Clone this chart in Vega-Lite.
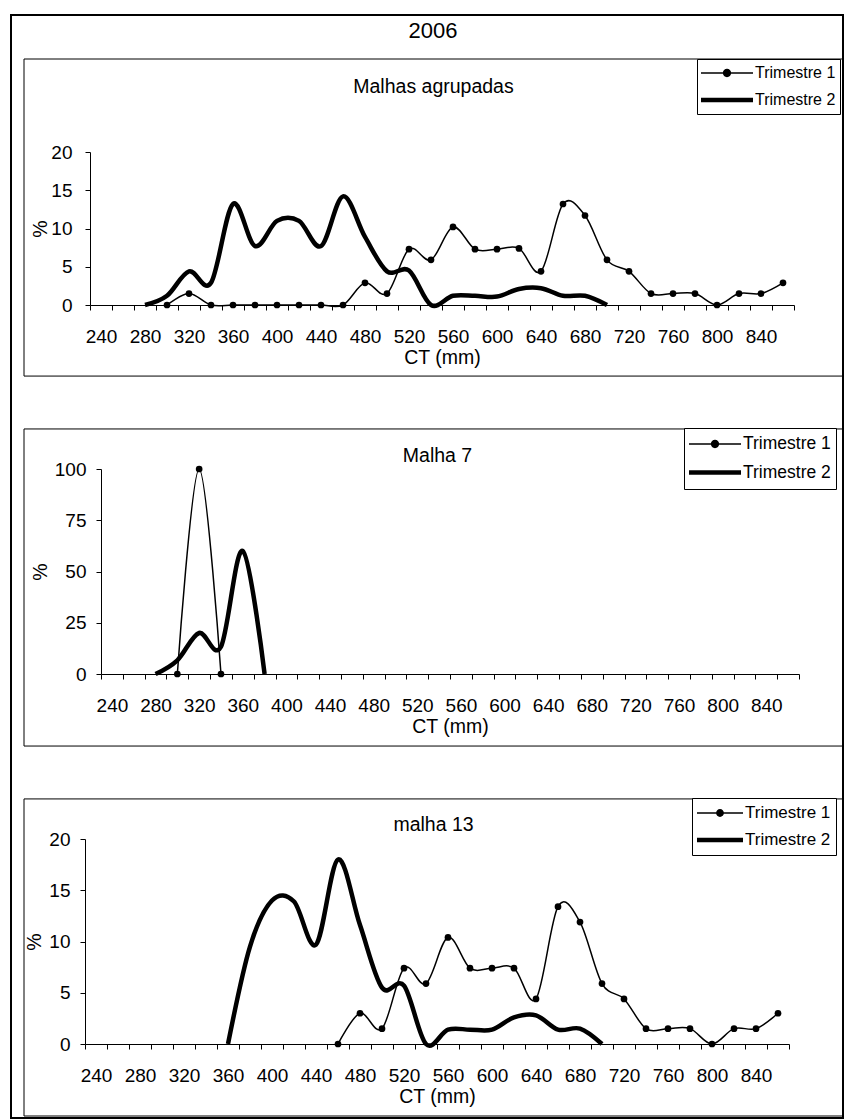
{
  "$schema": "https://vega.github.io/schema/vega-lite/v6.json",
  "width": 832,
  "height": 1103,
  "autosize": {"type": "none"},
  "padding": {"left": 11, "top": 15, "right": 1, "bottom": 1},
  "background": "white",
  "title": {"text": "2006", "fontSize": 22, "font": "Liberation Sans", "fontWeight": "normal", "color": "black", "anchor": "middle", "frame": "group", "offset": -28, "dx": 6},
  "config": {
    "font": "Liberation Sans",
    "view": {"stroke": "black", "strokeWidth": 2},
    "axis": {"domainColor": "black", "tickColor": "black", "labelColor": "black", "titleColor": "black", "grid": false, "labelFont": "Liberation Sans", "titleFont": "Liberation Sans", "titleFontWeight": "normal", "labelFontSize": 19, "titleFontSize": 19.5, "domainWidth": 1, "tickWidth": 1},
    "legend": {"labelFont": "Liberation Sans", "labelColor": "black"}
  },
  "datasets": {
    "p1": [
      {"ct": 300, "pct": 0, "serie": "Trimestre 1"}, {"ct": 320, "pct": 1.5, "serie": "Trimestre 1"}, {"ct": 340, "pct": 0, "serie": "Trimestre 1"}, {"ct": 360, "pct": 0, "serie": "Trimestre 1"}, {"ct": 380, "pct": 0, "serie": "Trimestre 1"}, {"ct": 400, "pct": 0, "serie": "Trimestre 1"}, {"ct": 420, "pct": 0, "serie": "Trimestre 1"}, {"ct": 440, "pct": 0, "serie": "Trimestre 1"}, {"ct": 460, "pct": 0, "serie": "Trimestre 1"}, {"ct": 480, "pct": 2.9, "serie": "Trimestre 1"}, {"ct": 500, "pct": 1.5, "serie": "Trimestre 1"}, {"ct": 520, "pct": 7.3, "serie": "Trimestre 1"}, {"ct": 540, "pct": 5.9, "serie": "Trimestre 1"}, {"ct": 560, "pct": 10.2, "serie": "Trimestre 1"}, {"ct": 580, "pct": 7.3, "serie": "Trimestre 1"}, {"ct": 600, "pct": 7.3, "serie": "Trimestre 1"}, {"ct": 620, "pct": 7.4, "serie": "Trimestre 1"}, {"ct": 640, "pct": 4.4, "serie": "Trimestre 1"}, {"ct": 660, "pct": 13.2, "serie": "Trimestre 1"}, {"ct": 680, "pct": 11.7, "serie": "Trimestre 1"}, {"ct": 700, "pct": 5.9, "serie": "Trimestre 1"}, {"ct": 720, "pct": 4.4, "serie": "Trimestre 1"}, {"ct": 740, "pct": 1.5, "serie": "Trimestre 1"}, {"ct": 760, "pct": 1.5, "serie": "Trimestre 1"}, {"ct": 780, "pct": 1.5, "serie": "Trimestre 1"}, {"ct": 800, "pct": 0, "serie": "Trimestre 1"}, {"ct": 820, "pct": 1.5, "serie": "Trimestre 1"}, {"ct": 840, "pct": 1.5, "serie": "Trimestre 1"}, {"ct": 860, "pct": 2.9, "serie": "Trimestre 1"},
      {"ct": 280, "pct": 0, "serie": "Trimestre 2"}, {"ct": 300, "pct": 1.2, "serie": "Trimestre 2"}, {"ct": 320, "pct": 4.4, "serie": "Trimestre 2"}, {"ct": 340, "pct": 2.9, "serie": "Trimestre 2"}, {"ct": 360, "pct": 13.2, "serie": "Trimestre 2"}, {"ct": 380, "pct": 7.7, "serie": "Trimestre 2"}, {"ct": 400, "pct": 11.0, "serie": "Trimestre 2"}, {"ct": 420, "pct": 11.0, "serie": "Trimestre 2"}, {"ct": 440, "pct": 7.7, "serie": "Trimestre 2"}, {"ct": 460, "pct": 14.2, "serie": "Trimestre 2"}, {"ct": 480, "pct": 8.9, "serie": "Trimestre 2"}, {"ct": 500, "pct": 4.4, "serie": "Trimestre 2"}, {"ct": 520, "pct": 4.5, "serie": "Trimestre 2"}, {"ct": 540, "pct": 0, "serie": "Trimestre 2"}, {"ct": 560, "pct": 1.2, "serie": "Trimestre 2"}, {"ct": 580, "pct": 1.2, "serie": "Trimestre 2"}, {"ct": 600, "pct": 1.1, "serie": "Trimestre 2"}, {"ct": 620, "pct": 2.1, "serie": "Trimestre 2"}, {"ct": 640, "pct": 2.2, "serie": "Trimestre 2"}, {"ct": 660, "pct": 1.2, "serie": "Trimestre 2"}, {"ct": 680, "pct": 1.2, "serie": "Trimestre 2"}, {"ct": 700, "pct": 0, "serie": "Trimestre 2"}
    ],
    "p2": [
      {"ct": 300, "pct": 0, "serie": "Trimestre 1"}, {"ct": 320, "pct": 100, "serie": "Trimestre 1"}, {"ct": 340, "pct": 0, "serie": "Trimestre 1"},
      {"ct": 280, "pct": 0, "serie": "Trimestre 2"}, {"ct": 300, "pct": 6.7, "serie": "Trimestre 2"}, {"ct": 320, "pct": 20, "serie": "Trimestre 2"}, {"ct": 340, "pct": 13.3, "serie": "Trimestre 2"}, {"ct": 360, "pct": 60, "serie": "Trimestre 2"}, {"ct": 380, "pct": 0, "serie": "Trimestre 2"}
    ],
    "p3": [
      {"ct": 460, "pct": 0, "serie": "Trimestre 1"}, {"ct": 480, "pct": 3.0, "serie": "Trimestre 1"}, {"ct": 500, "pct": 1.5, "serie": "Trimestre 1"}, {"ct": 520, "pct": 7.4, "serie": "Trimestre 1"}, {"ct": 540, "pct": 5.9, "serie": "Trimestre 1"}, {"ct": 560, "pct": 10.4, "serie": "Trimestre 1"}, {"ct": 580, "pct": 7.4, "serie": "Trimestre 1"}, {"ct": 600, "pct": 7.4, "serie": "Trimestre 1"}, {"ct": 620, "pct": 7.4, "serie": "Trimestre 1"}, {"ct": 640, "pct": 4.4, "serie": "Trimestre 1"}, {"ct": 660, "pct": 13.4, "serie": "Trimestre 1"}, {"ct": 680, "pct": 11.9, "serie": "Trimestre 1"}, {"ct": 700, "pct": 5.9, "serie": "Trimestre 1"}, {"ct": 720, "pct": 4.4, "serie": "Trimestre 1"}, {"ct": 740, "pct": 1.5, "serie": "Trimestre 1"}, {"ct": 760, "pct": 1.5, "serie": "Trimestre 1"}, {"ct": 780, "pct": 1.5, "serie": "Trimestre 1"}, {"ct": 800, "pct": 0, "serie": "Trimestre 1"}, {"ct": 820, "pct": 1.5, "serie": "Trimestre 1"}, {"ct": 840, "pct": 1.5, "serie": "Trimestre 1"}, {"ct": 860, "pct": 3.0, "serie": "Trimestre 1"},
      {"ct": 360, "pct": 0, "serie": "Trimestre 2"}, {"ct": 380, "pct": 9.5, "serie": "Trimestre 2"}, {"ct": 400, "pct": 14.0, "serie": "Trimestre 2"}, {"ct": 420, "pct": 13.9, "serie": "Trimestre 2"}, {"ct": 440, "pct": 9.7, "serie": "Trimestre 2"}, {"ct": 460, "pct": 18.0, "serie": "Trimestre 2"}, {"ct": 480, "pct": 11.6, "serie": "Trimestre 2"}, {"ct": 500, "pct": 5.5, "serie": "Trimestre 2"}, {"ct": 520, "pct": 5.7, "serie": "Trimestre 2"}, {"ct": 540, "pct": 0, "serie": "Trimestre 2"}, {"ct": 560, "pct": 1.4, "serie": "Trimestre 2"}, {"ct": 580, "pct": 1.4, "serie": "Trimestre 2"}, {"ct": 600, "pct": 1.4, "serie": "Trimestre 2"}, {"ct": 620, "pct": 2.6, "serie": "Trimestre 2"}, {"ct": 640, "pct": 2.8, "serie": "Trimestre 2"}, {"ct": 660, "pct": 1.4, "serie": "Trimestre 2"}, {"ct": 680, "pct": 1.5, "serie": "Trimestre 2"}, {"ct": 700, "pct": 0, "serie": "Trimestre 2"}
    ]
  },
  "layer": [
    {
      "data": {"values": [{"panel": "Malhas agrupadas"}, {"panel": "Malha 7"}, {"panel": "malha 13"}]},
      "mark": {"type": "rect", "fill": "transparent", "stroke": "black", "strokeWidth": 1},
      "encoding": {
        "y": {"field": "panel", "type": "nominal", "scale": {"domain": ["Malhas agrupadas", "Malha 7", "malha 13"], "range": [44, 1101], "paddingInner": 0.143, "paddingOuter": 0}, "axis": null},
        "x": {"datum": "frame", "type": "nominal", "scale": {"range": [13, 832], "paddingInner": 0, "paddingOuter": 0}, "axis": null}
      }
    },
    {
      "data": {"name": "p1"},
      "layer": [
        {
          "transform": [{"filter": "datum.serie === 'Trimestre 2'"}],
          "mark": {"type": "line", "interpolate": "cardinal", "color": "black", "strokeWidth": 4.5, "strokeJoin": "round"},
          "encoding": {
            "x": {"field": "ct", "type": "quantitative", "scale": {"domain": [230, 870], "range": [79, 783], "nice": false, "zero": false},
              "axis": {"orient": "bottom", "offset": -813, "values": [230,250,270,290,310,330,350,370,390,410,430,450,470,490,510,530,550,570,590,610,630,650,670,690,710,730,750,770,790,810,830,850,870], "labels": false, "ticks": true, "tickSize": 5, "domain": true, "title": null}},
            "y": {"field": "pct", "type": "quantitative", "scale": {"domain": [0, 20], "range": [290, 137], "nice": false, "zero": false},
              "axis": {"orient": "left", "offset": -79, "values": [0, 5, 10, 15, 20], "tickSize": 5, "labelPadding": 13, "labelOverlap": false, "labelBound": false, "title": "%", "titlePadding": 0}}
          }
        },
        {
          "transform": [{"filter": "datum.serie === 'Trimestre 1'"}],
          "mark": {"type": "line", "interpolate": "cardinal", "color": "black", "strokeWidth": 1.5},
          "encoding": {
            "x": {"field": "ct", "type": "quantitative", "scale": {"domain": [230, 870], "range": [79, 783], "nice": false, "zero": false},
              "axis": {"orient": "bottom", "offset": -813, "values": [240,280,320,360,400,440,480,520,560,600,640,680,720,760,800,840], "ticks": false, "domain": false, "labelPadding": 22, "labelOverlap": false, "labelFlush": false, "labelBound": false, "title": "CT (mm)", "titlePadding": 2}},
            "y": {"field": "pct", "type": "quantitative", "scale": {"domain": [0, 20], "range": [290, 137], "nice": false, "zero": false}, "axis": null}
          }
        },
        {
          "transform": [{"filter": "datum.serie === 'Trimestre 1'"}],
          "mark": {"type": "point", "filled": true, "color": "black", "size": 45, "opacity": 1},
          "encoding": {
            "x": {"field": "ct", "type": "quantitative", "scale": {"domain": [230, 870], "range": [79, 783], "nice": false, "zero": false},
              "axis": {"orient": "top", "offset": -81, "domain": false, "ticks": false, "labels": false, "title": "Malhas agrupadas", "titlePadding": 0, "titleX": 422, "titleAlign": "center"}},
            "y": {"field": "pct", "type": "quantitative", "scale": {"domain": [0, 20], "range": [290, 137], "nice": false, "zero": false}, "axis": null}
          }
        },
        {
          "mark": {"type": "point", "filled": true, "color": "black", "strokeWidth": 0},
          "encoding": {
            "x": {"field": "ct", "type": "quantitative", "scale": {"domain": [230, 870], "range": [79, 783], "nice": false, "zero": false}, "axis": null},
            "y": {"field": "pct", "type": "quantitative", "scale": {"domain": [0, 20], "range": [290, 137], "nice": false, "zero": false}, "axis": null},
            "opacity": {"value": 0},
            "shape": {"field": "serie", "type": "nominal",
              "scale": {"domain": ["Trimestre 1", "Trimestre 2"], "range": ["M-1,-0.03H1V0.03H-1Z M0.16,0A0.16,0.16 0 1 1 -0.16,0A0.16,0.16 0 1 1 0.16,0Z", "M-1,-0.09H1V0.09H-1Z"]},
              "legend": {"title": null, "orient": "none", "legendX": 686, "legendY": 44, "direction": "vertical", "strokeColor": "black", "fillColor": "white", "padding": 4, "symbolSize": 2704, "symbolStrokeWidth": 0, "symbolOpacity": 1, "symbolFillColor": "black", "labelFontSize": 16, "labelOffset": 2, "clipHeight": 20, "rowPadding": 7, "labelBaseline": "middle"}}
          }
        }
      ],
      "resolve": {"axis": {"x": "independent", "y": "independent"}}
    },
    {
      "data": {"name": "p2"},
      "layer": [
        {
          "transform": [{"filter": "datum.serie === 'Trimestre 2'"}],
          "mark": {"type": "line", "interpolate": "cardinal", "color": "black", "strokeWidth": 4.5, "strokeJoin": "round"},
          "encoding": {
            "x": {"field": "ct", "type": "quantitative", "scale": {"domain": [230, 870], "range": [90, 788], "nice": false, "zero": false},
              "axis": {"orient": "bottom", "offset": -444, "values": [230,250,270,290,310,330,350,370,390,410,430,450,470,490,510,530,550,570,590,610,630,650,670,690,710,730,750,770,790,810,830,850,870], "labels": false, "ticks": true, "tickSize": 5, "domain": true, "title": null}},
            "y": {"field": "pct", "type": "quantitative", "scale": {"domain": [0, 100], "range": [659, 454], "nice": false, "zero": false},
              "axis": {"orient": "left", "offset": -90, "values": [0, 25, 50, 75, 100], "tickSize": 5, "labelPadding": 10, "labelOverlap": false, "labelBound": false, "title": "%", "titlePadding": 4}}
          }
        },
        {
          "transform": [{"filter": "datum.serie === 'Trimestre 1'"}],
          "mark": {"type": "line", "interpolate": "cardinal", "color": "black", "strokeWidth": 1.5},
          "encoding": {
            "x": {"field": "ct", "type": "quantitative", "scale": {"domain": [230, 870], "range": [90, 788], "nice": false, "zero": false},
              "axis": {"orient": "bottom", "offset": -444, "values": [240,280,320,360,400,440,480,520,560,600,640,680,720,760,800,840], "ticks": false, "domain": false, "labelPadding": 22, "labelOverlap": false, "labelFlush": false, "labelBound": false, "title": "CT (mm)", "titlePadding": 2}},
            "y": {"field": "pct", "type": "quantitative", "scale": {"domain": [0, 100], "range": [659, 454], "nice": false, "zero": false}, "axis": null}
          }
        },
        {
          "transform": [{"filter": "datum.serie === 'Trimestre 1'"}],
          "mark": {"type": "point", "filled": true, "color": "black", "size": 45, "opacity": 1},
          "encoding": {
            "x": {"field": "ct", "type": "quantitative", "scale": {"domain": [230, 870], "range": [90, 788], "nice": false, "zero": false},
              "axis": {"orient": "top", "offset": -450, "domain": false, "ticks": false, "labels": false, "title": "Malha 7", "titlePadding": 0, "titleX": 426, "titleAlign": "center"}},
            "y": {"field": "pct", "type": "quantitative", "scale": {"domain": [0, 100], "range": [659, 454], "nice": false, "zero": false}, "axis": null}
          }
        },
        {
          "mark": {"type": "point", "filled": true, "color": "black", "strokeWidth": 0},
          "encoding": {
            "x": {"field": "ct", "type": "quantitative", "scale": {"domain": [230, 870], "range": [90, 788], "nice": false, "zero": false}, "axis": null},
            "y": {"field": "pct", "type": "quantitative", "scale": {"domain": [0, 100], "range": [659, 454], "nice": false, "zero": false}, "axis": null},
            "opacity": {"value": 0},
            "shape": {"field": "serie", "type": "nominal",
              "scale": {"domain": ["Trimestre 1", "Trimestre 2"], "range": ["M-1,-0.03H1V0.03H-1Z M0.16,0A0.16,0.16 0 1 1 -0.16,0A0.16,0.16 0 1 1 0.16,0Z", "M-1,-0.09H1V0.09H-1Z"]},
              "legend": {"title": null, "orient": "none", "legendX": 673, "legendY": 413, "direction": "vertical", "strokeColor": "black", "fillColor": "white", "padding": 5, "symbolSize": 2704, "symbolStrokeWidth": 0, "symbolOpacity": 1, "symbolFillColor": "black", "labelFontSize": 17.5, "labelOffset": 2, "clipHeight": 22, "rowPadding": 6.5, "labelBaseline": "middle"}}
          }
        }
      ],
      "resolve": {"axis": {"x": "independent", "y": "independent"}}
    },
    {
      "data": {"name": "p3"},
      "layer": [
        {
          "transform": [{"filter": "datum.serie === 'Trimestre 2'"}],
          "mark": {"type": "line", "interpolate": "cardinal", "color": "black", "strokeWidth": 4.5, "strokeJoin": "round"},
          "encoding": {
            "x": {"field": "ct", "type": "quantitative", "scale": {"domain": [230, 870], "range": [74, 778], "nice": false, "zero": false},
              "axis": {"orient": "bottom", "offset": -74, "values": [230,250,270,290,310,330,350,370,390,410,430,450,470,490,510,530,550,570,590,610,630,650,670,690,710,730,750,770,790,810,830,850,870], "labels": false, "ticks": true, "tickSize": 5, "domain": true, "title": null}},
            "y": {"field": "pct", "type": "quantitative", "scale": {"domain": [0, 20], "range": [1029, 824], "nice": false, "zero": false},
              "axis": {"orient": "left", "offset": -74, "values": [0, 5, 10, 15, 20], "tickSize": 5, "labelPadding": 10, "labelOverlap": false, "labelBound": false, "title": "%", "titlePadding": 4}}
          }
        },
        {
          "transform": [{"filter": "datum.serie === 'Trimestre 1'"}],
          "mark": {"type": "line", "interpolate": "cardinal", "color": "black", "strokeWidth": 1.5},
          "encoding": {
            "x": {"field": "ct", "type": "quantitative", "scale": {"domain": [230, 870], "range": [74, 778], "nice": false, "zero": false},
              "axis": {"orient": "bottom", "offset": -74, "values": [240,280,320,360,400,440,480,520,560,600,640,680,720,760,800,840], "ticks": false, "domain": false, "labelPadding": 22, "labelOverlap": false, "labelFlush": false, "labelBound": false, "title": "CT (mm)", "titlePadding": 2}},
            "y": {"field": "pct", "type": "quantitative", "scale": {"domain": [0, 20], "range": [1029, 824], "nice": false, "zero": false}, "axis": null}
          }
        },
        {
          "transform": [{"filter": "datum.serie === 'Trimestre 1'"}],
          "mark": {"type": "point", "filled": true, "color": "black", "size": 45, "opacity": 1},
          "encoding": {
            "x": {"field": "ct", "type": "quantitative", "scale": {"domain": [230, 870], "range": [74, 778], "nice": false, "zero": false},
              "axis": {"orient": "top", "offset": -819, "domain": false, "ticks": false, "labels": false, "title": "malha 13", "titlePadding": 0, "titleX": 422, "titleAlign": "center"}},
            "y": {"field": "pct", "type": "quantitative", "scale": {"domain": [0, 20], "range": [1029, 824], "nice": false, "zero": false}, "axis": null}
          }
        },
        {
          "mark": {"type": "point", "filled": true, "color": "black", "strokeWidth": 0},
          "encoding": {
            "x": {"field": "ct", "type": "quantitative", "scale": {"domain": [230, 870], "range": [74, 778], "nice": false, "zero": false}, "axis": null},
            "y": {"field": "pct", "type": "quantitative", "scale": {"domain": [0, 20], "range": [1029, 824], "nice": false, "zero": false}, "axis": null},
            "opacity": {"value": 0},
            "shape": {"field": "serie", "type": "nominal",
              "scale": {"domain": ["Trimestre 1", "Trimestre 2"], "range": ["M-1,-0.035H1V0.035H-1Z M0.17,0A0.17,0.17 0 1 1 -0.17,0A0.17,0.17 0 1 1 0.17,0Z", "M-1,-0.1H1V0.1H-1Z"]},
              "legend": {"title": null, "orient": "none", "legendX": 681, "legendY": 783, "direction": "vertical", "strokeColor": "black", "fillColor": "white", "padding": 5, "symbolSize": 2116, "symbolStrokeWidth": 0, "symbolOpacity": 1, "symbolFillColor": "black", "labelFontSize": 17, "labelOffset": 2, "clipHeight": 20, "rowPadding": 7, "labelBaseline": "middle"}}
          }
        }
      ],
      "resolve": {"axis": {"x": "independent", "y": "independent"}}
    }
  ],
  "resolve": {
    "scale": {"x": "independent", "y": "independent", "shape": "independent"},
    "axis": {"x": "independent", "y": "independent"},
    "legend": {"shape": "independent"}
  }
}
